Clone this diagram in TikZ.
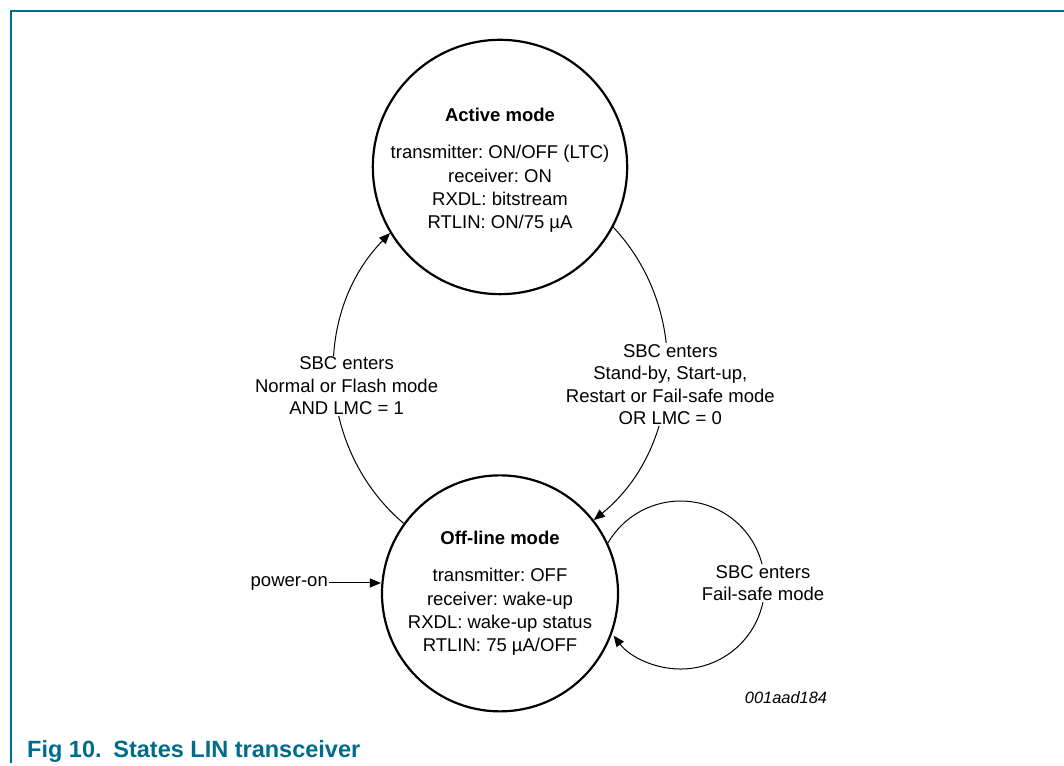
\documentclass[tikz,border=0pt]{standalone}
\usepackage{fontspec}
\setmainfont{Liberation Sans}
\usetikzlibrary{positioning}
\usetikzlibrary{arrows.meta}
\definecolor{figblue}{RGB}{0,108,140}
\frenchspacing

\begin{document}
\begin{tikzpicture}[x=1pt, y=1pt,
    state/.style={draw, circle, line width=2.2pt, minimum size=236pt, inner sep=0pt, align=center, font=\fontsize{18.5}{23.2}\selectfont},
    lbl/.style={fill=white, inner sep=1pt, align=center, font=\fontsize{18.5}{22.5}\selectfont},
    arr/.style={-{Triangle[length=11pt,width=9pt]}, line width=1pt}]
            \useasboundingbox (0,0) rectangle (1064,765);
            \draw[figblue, line width=1.5pt] (11,2) -- (11,754) -- (1064,754);

            \node[state] (act) at (500,598) {\rule{0pt}{20pt}\textbf{Active mode}\\[14pt] transmitter: ON/OFF (LTC)\\ receiver: ON\\ RXDL: bitstream\\ RTLIN: ON/75 µA};
            \node[state, below = 179pt of act] (off) {\textbf{Off-line mode}\\[14pt] transmitter: OFF\\ receiver: wake-up\\ RXDL: wake-up status\\ RTLIN: 75 µA/OFF};
            \node[lbl, fill=none, anchor=east] (pwr) at (329,182) {power-on};

            \draw[arr] (pwr.east) -- (pwr.east -| off.west);
            \draw[arr] (off.144) to[bend left=47] node[lbl, xshift=12pt, yshift=-5pt] {SBC enters\\ Normal or Flash mode\\ AND LMC = 1} (act.211);
            \draw[arr] (act.-28) to[bend left=47] node[lbl, xshift=4pt, yshift=-7pt] {SBC enters\\ Stand-by, Start-up,\\ Restart or Fail-safe mode\\ OR LMC = 0} (off.38);
            \draw[arr] (off.25) arc[start angle=150, end angle=-143, radius=84];
            \node[lbl] (fs) at (763,182) {SBC enters\\ Fail-safe mode};

            \node[font=\itshape\fontsize{16.4}{20}\selectfont] (id) at (786,67) {001aad184};
            \node[anchor=base west, inner sep=0pt, text=figblue, font=\bfseries\fontsize{23.5}{28}\selectfont] (cap) at (27,8) {Fig 10.\hspace{0.5em}States LIN transceiver};
        \end{tikzpicture}
\end{document}
